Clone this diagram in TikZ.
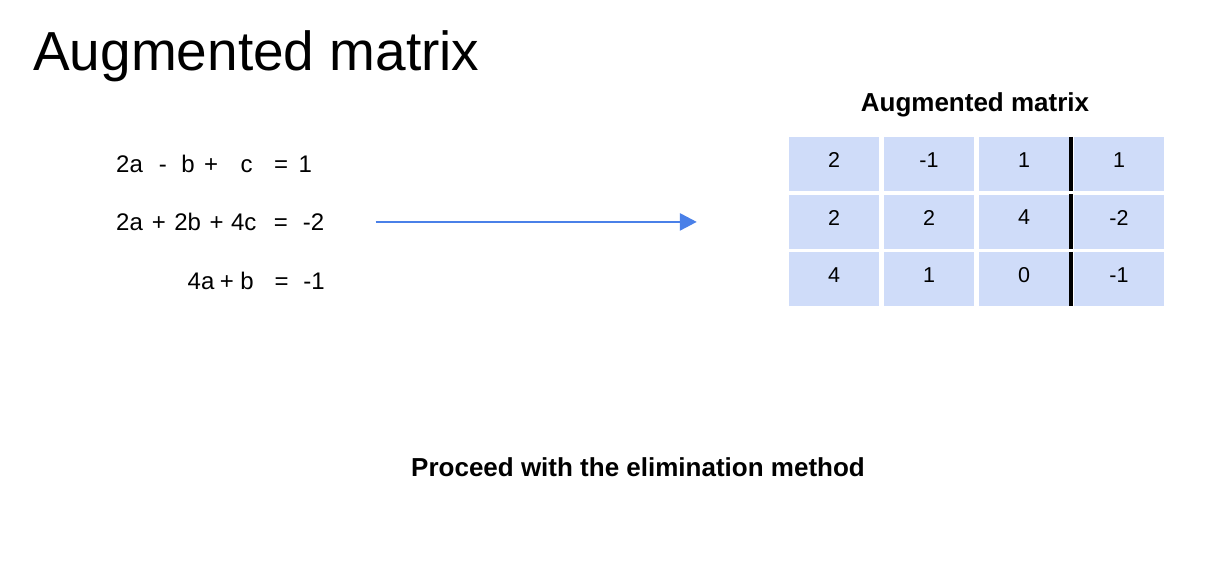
\documentclass[tikz,border=0pt]{standalone}
\usepackage{fontspec}
\setmainfont{Liberation Sans}
\usetikzlibrary{arrows.meta}
\definecolor{cellblue}{RGB}{207,220,249}
\definecolor{arrowblue}{RGB}{74,128,232}
\begin{document}
\begin{tikzpicture}[x=1pt,y=-1pt,
  eq/.style={anchor=base west,inner sep=0pt,font=\fontsize{24}{28}\selectfont},
  head/.style={anchor=base,inner sep=0pt,font=\fontsize{26}{30}\selectfont\bfseries},
  cell/.style={fill=cellblue,minimum width=90pt,minimum height=54pt,inner sep=0pt,text depth=8pt,font=\fontsize{21.5}{24}\selectfont},
  flow/.style={draw=arrowblue,line width=2.8pt,-{Triangle[length=17pt,width=17pt]}}]
\useasboundingbox(0,0)rectangle(1224,573);
\node[anchor=base west,inner sep=0pt,font=\fontsize{55}{60}\selectfont](title)at(33,70){Augmented matrix};
% system of equations
\node[eq](eqA)at(116,172){2a\hspace{16pt}-\hspace{14.5pt}b\hspace{9.5pt}+\hspace{22.5pt}c\hspace{21.5pt}=\hspace{10.5pt}1};
\node[eq](eqB)at(116,230.5){2a\hspace{9pt}+\hspace{8.5pt}2b\hspace{8.5pt}+\hspace{7.5pt}4c\hspace{17.5pt}=\hspace{15pt}-2};
\node[eq](eqC)at(187.5,289.5){4a\hspace{5.5pt}+\hspace{6.5pt}b\hspace{21pt}=\hspace{14.5pt}-1};
% augmented matrix
\node[head](mhead)at(975,111){Augmented matrix};
\foreach \row [count=\ri] in {{2,-1,1,1},{2,2,4,-2},{4,1,0,-1}}{
  \foreach \v [count=\ci] in \row{\node[cell](c-\ri-\ci)at({834+95*(\ci-1)},{164+57.5*(\ri-1)}){\v};}
  \draw[line width=4pt]([xshift=-3pt]c-\ri-4.north west)--([xshift=-3pt]c-\ri-4.south west);
}
\draw[flow,shorten <=51pt,shorten >=92pt](eqB.east)--(eqB.east-|c-2-1.west);
\node[head](note)at(638,476.7){Proceed with the elimination method};
\end{tikzpicture}
\end{document}
